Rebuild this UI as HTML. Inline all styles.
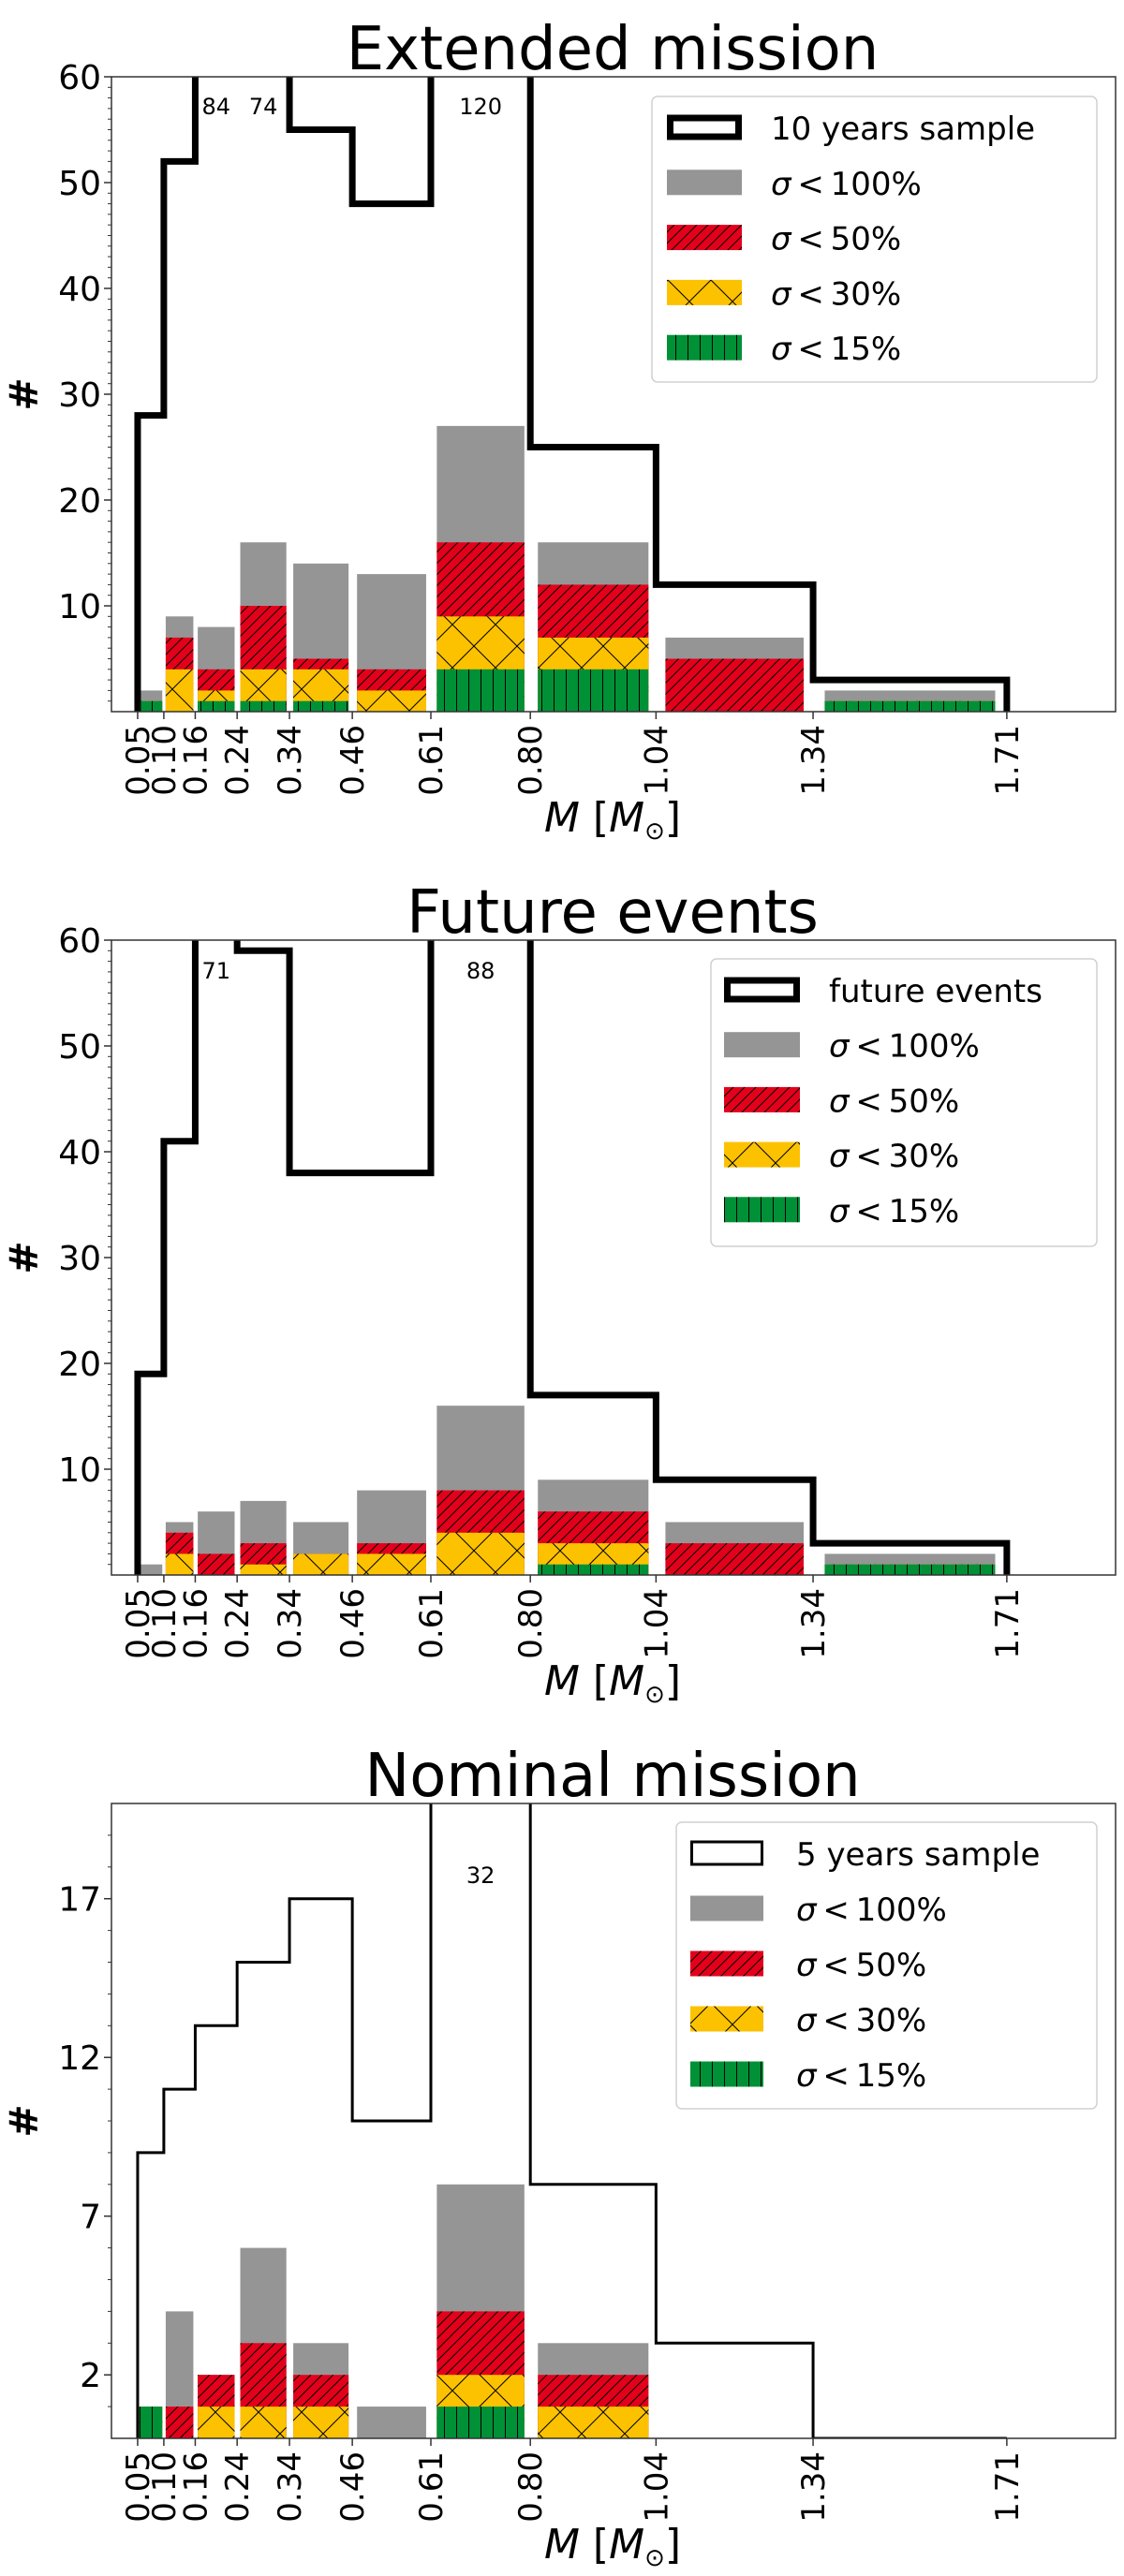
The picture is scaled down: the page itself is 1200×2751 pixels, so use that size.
<!DOCTYPE html>
<html><head><meta charset="utf-8">
<style>
html,body{margin:0;padding:0;background:#fff;}
svg{display:block;font-family:"DejaVu Sans","Liberation Sans",sans-serif;}
</style></head>
<body>
<svg id="fig" width="1200" height="2751" viewBox="0 0 1200 2751" xmlns="http://www.w3.org/2000/svg">
<defs>
<pattern id="hRed" patternUnits="userSpaceOnUse" width="12" height="12">
<rect width="12" height="12" fill="#E3001B"/>
<path d="M0,12 L12,0 M-3,3 L3,-3 M9,15 L15,9" stroke="#000" stroke-width="1"/>
</pattern>
<pattern id="hYel" patternUnits="userSpaceOnUse" width="46" height="46">
<rect width="46" height="46" fill="#FCC200"/>
<path d="M0,0 L46,46 M0,46 L46,0" stroke="#000" stroke-width="1"/>
</pattern>
<pattern id="hGrn" patternUnits="userSpaceOnUse" width="13" height="13">
<rect width="13" height="13" fill="#009036"/>
<path d="M6.5,0 L6.5,13" stroke="#000" stroke-width="1"/>
</pattern>
</defs>
</svg>
<script>
const edges = [0.05,0.10,0.16,0.24,0.34,0.46,0.61,0.80,1.04,1.34,1.71];
const edgeLabels = ["0.05","0.10","0.16","0.24","0.34","0.46","0.61","0.80","1.04","1.34","1.71"];

const p1Total = [28,52,84,74,55,48,120,25,12,3];
const p1S100 = [2,9,8,16,14,13,27,16,7,2];
const p1S50 = [1,7,4,10,5,4,16,12,5,1];
const p1S30 = [1,4,2,4,4,2,9,7,0,1];
const p1S15 = [1,0,1,1,1,0,4,4,0,1];
const p1Ticks = [10,20,30,40,50,60];

const p2Total = [19,41,71,59,38,38,88,17,9,3];
const p2S100 = [1,5,6,7,5,8,16,9,5,2];
const p2S50 = [0,4,2,3,2,3,8,6,3,1];
const p2S30 = [0,2,0,1,2,2,4,3,0,1];
const p2S15 = [0,0,0,0,0,0,0,1,0,1];
const p2Ticks = [10,20,30,40,50,60];

const p3Total = [9,11,13,15,17,10,32,8,3,0];
const p3S100 = [1,4,2,6,3,1,8,3,0,0];
const p3S50 = [1,1,2,3,2,0,4,2,0,0];
const p3S30 = [1,0,1,1,1,0,2,1,0,0];
const p3S15 = [1,0,0,0,0,0,1,0,0,0];
const p3Ticks = [2,7,12,17];

const legendLabels = ["100%","50%","30%","15%"];

const NS = "http://www.w3.org/2000/svg";
const svg = document.getElementById('fig');
const AX_L = 119, AX_R = 1191;
function xs(m){ return AX_L + m*559; }

function mk(tag, attrs, parent){
  const e = document.createElementNS(NS, tag);
  for (const k in attrs) e.setAttribute(k, attrs[k]);
  (parent||svg).appendChild(e);
  return e;
}

const panels = [
  {key:'extended', title:'Extended mission', top:82, bot:760, ymax:60, ticks:p1Ticks, lw:7,
   total:p1Total, s100:p1S100, s50:p1S50, s30:p1S30, s15:p1S15, annotDy:32,
   leg:{x:696,y:103,w:475,h:305,row0:136,step:58.8,hx:712,hw:80,tx:823,label:'10 years sample'}},
  {key:'future', title:'Future events', top:1004, bot:1682, ymax:60, ticks:p2Ticks, lw:7,
   total:p2Total, s100:p2S100, s50:p2S50, s30:p2S30, s15:p2S15, annotDy:33,
   leg:{x:759,y:1024,w:412,h:307,row0:1057,step:58.7,hx:773,hw:81,tx:885,label:'future events'}},
  {key:'nominal', title:'Nominal mission', top:1926, bot:2604, ymax:20, ticks:p3Ticks, lw:3,
   total:p3Total, s100:p3S100, s50:p3S50, s30:p3S30, s15:p3S15, annotDy:77,
   leg:{x:722,y:1946,w:449,h:306,row0:1979,step:59,hx:737,hw:78,tx:850,label:'5 years sample'}}
];

panels.forEach((p, pi) => {
  const g = mk('g', {});
  
  
  const ys = v => p.bot - v*(p.bot-p.top)/p.ymax;

  const title = mk('text', {x:654, y:p.top-8, 'text-anchor':'middle', 'font-size':64, fill:'#000'}, g);
  title.textContent = p.title;
  
  

  const clipId = 'clip'+pi;
  const cp = mk('clipPath', {id:clipId}, g);
  mk('rect', {x:AX_L, y:p.top, width:AX_R-AX_L, height:p.bot-p.top}, cp);

  const plot = mk('g', {'clip-path':'url(#'+clipId+')'}, g);
  
  

  const series = [
    {arr:p.s100, fill:'#959595', nm:'sigma100'},
    {arr:p.s50, fill:'url(#hRed)', nm:'sigma50'},
    {arr:p.s30, fill:'url(#hYel)', nm:'sigma30'},
    {arr:p.s15, fill:'url(#hGrn)', nm:'sigma15'}
  ];
  series.forEach(s => {
    for (let i=0;i<edges.length-1;i++){
      const v = s.arr[i];
      if (v<=0) continue;
      const x0 = xs(edges[i]), x1 = xs(edges[i+1]);
      const w = (x1-x0)*0.88, cx = (x0+x1)/2;
      const r = mk('rect', {x:cx-w/2, y:ys(v), width:w, height:ys(0)-ys(v), fill:s.fill}, plot);
      
      
    }
  });

  let d = 'M'+xs(edges[0])+','+ys(0);
  for (let i=0;i<edges.length-1;i++){
    d += ' L'+xs(edges[i])+','+ys(p.total[i])+' L'+xs(edges[i+1])+','+ys(p.total[i]);
  }
  d += ' L'+xs(edges[edges.length-1])+','+ys(0);
  const step = mk('path', {d:d, fill:'none', stroke:'#000', 'stroke-width':p.lw, 'stroke-linejoin':'miter'}, plot);
  
  

  for (let i=0;i<p.total.length;i++){
    if (p.total[i] > p.ymax){
      const t = mk('text', {x:(xs(edges[i])+xs(edges[i+1]))/2, y:p.top+p.annotDy+8, 'text-anchor':'middle', 'font-size':24, fill:'#000'}, g);
      t.textContent = String(p.total[i]);
      
      
    }
  }

  const frame = mk('rect', {x:AX_L, y:p.top, width:AX_R-AX_L, height:p.bot-p.top, fill:'none', stroke:'#333', 'stroke-width':1.5}, g);
  
  

  for (let v=1; v<p.ymax; v++){
    mk('line', {x1:AX_L-4, x2:AX_L, y1:ys(v), y2:ys(v), stroke:'#333', 'stroke-width':1}, g);
  }
  p.ticks.forEach(v => {
    mk('line', {x1:AX_L-8, x2:AX_L, y1:ys(v), y2:ys(v), stroke:'#333', 'stroke-width':1.5}, g);
    const t = mk('text', {x:AX_L-11, y:ys(v)+13, 'text-anchor':'end', 'font-size':36, fill:'#000'}, g);
    t.textContent = String(v);
    
    
  });

  edges.forEach((m, i) => {
    const x = xs(m);
    mk('line', {x1:x, x2:x, y1:p.bot, y2:p.bot+8, stroke:'#333', 'stroke-width':1.5}, g);
    const t = mk('text', {x:0, y:0, 'text-anchor':'end', 'font-size':34, fill:'#000',
      transform:'translate('+(x+12)+','+(p.bot+14)+') rotate(-90)'}, g);
    t.textContent = edgeLabels[i];
    
    
  });

  const yl = mk('text', {x:0, y:0, 'text-anchor':'middle', 'font-size':42, 'font-weight':'bold', fill:'#000',
    transform:'translate(40,'+((p.top+p.bot)/2)+') rotate(-90)'}, g);
  yl.textContent = '#';
  
  

  const xl = mk('text', {x:654, y:p.bot+128, 'text-anchor':'middle', 'font-size':44, fill:'#000'}, g);
  xl.innerHTML = '<tspan font-style="italic">M</tspan> [<tspan font-style="italic">M</tspan><tspan font-size="26" dy="8">⊙</tspan><tspan dy="-8">]</tspan>';
  
  

  const L = p.leg;
  const lg = mk('g', {}, g);
  
  
  mk('rect', {x:L.x, y:L.y, width:L.w, height:L.h, rx:6, fill:'#fff', 'fill-opacity':0.85, stroke:'#d0d0d0', 'stroke-width':1.5}, lg);
  const fills = [null,'#959595','url(#hRed)','url(#hYel)','url(#hGrn)'];
  for (let r=0;r<5;r++){
    const cy = L.row0 + r*L.step;
    if (r===0){
      mk('rect', {x:L.hx+p.lw/2, y:cy-13.5+p.lw/2, width:L.hw-p.lw, height:27-p.lw, fill:'#fff', stroke:'#000', 'stroke-width':p.lw}, lg);
    } else {
      mk('rect', {x:L.hx, y:cy-13.5, width:L.hw, height:27, fill:fills[r]}, lg);
    }
    const t = mk('text', {x:L.tx, y:cy+13, 'font-size':34, fill:'#000'}, lg);
    if (r===0) t.textContent = L.label;
    else t.innerHTML = '<tspan font-style="italic">σ</tspan>\u2009<\u2009' + legendLabels[r-1];
    
    
  }
});
</script>
</body></html>
